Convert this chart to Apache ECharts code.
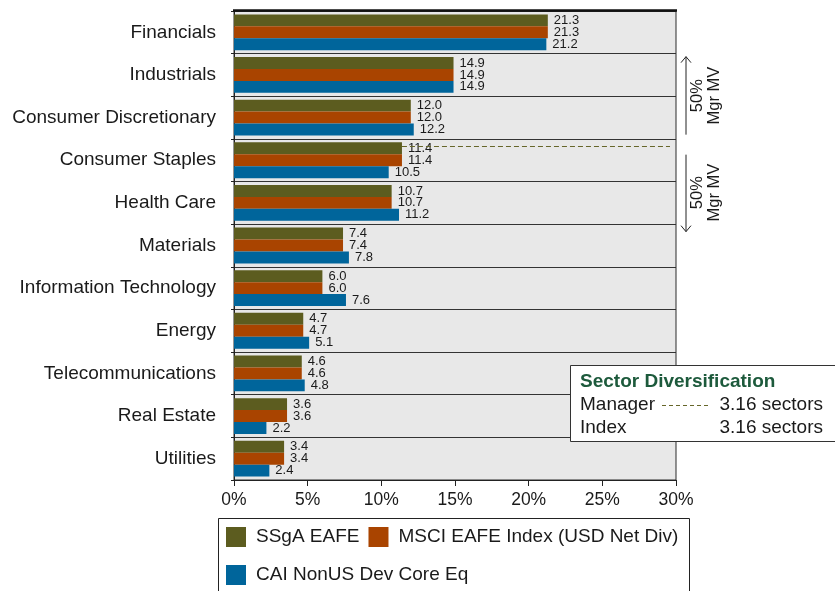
<!DOCTYPE html>
<html>
<head>
<meta charset="utf-8">
<script src="https://cdn.jsdelivr.net/npm/echarts@6/dist/echarts.min.js"></script>
<style>
  html, body { margin: 0; padding: 0; background: #fff; }
  #chart { width: 835px; height: 591px; }
</style>
</head>
<body>
<div id="chart"></div>
<script>
// Sector weights (%) by fund / index / peer group
const sectors = ['Financials', 'Industrials', 'Consumer Discretionary', 'Consumer Staples',
  'Health Care', 'Materials', 'Information Technology', 'Energy',
  'Telecommunications', 'Real Estate', 'Utilities'];
const managerWeights = [21.3, 14.9, 12.0, 11.4, 10.7, 7.4, 6.0, 4.7, 4.6, 3.6, 3.4];
const indexWeights   = [21.3, 14.9, 12.0, 11.4, 10.7, 7.4, 6.0, 4.7, 4.6, 3.6, 3.4];
const peerWeights    = [21.2, 14.9, 12.2, 10.5, 11.2, 7.8, 7.6, 5.1, 4.8, 2.2, 2.4];
const seriesNames = ['SSgA EAFE', 'MSCI EAFE Index (USD Net Div)', 'CAI NonUS Dev Core Eq'];
const seriesColors = ['#5c5c1f', '#a94400', '#00659b'];
const xTicks = [0, 5, 10, 15, 20, 25, 30];
const diversification = { manager: '3.16 sectors', index: '3.16 sectors' };

const FONT = '"Liberation Sans", Arial, sans-serif';
const TEXT = '#1a1a1a';

// Band index and fraction where the manager's cumulative weight crosses 50%
function midpointPosition(weights) {
  let cum = 0;
  for (let i = 0; i < weights.length; i++) {
    if (cum + weights[i] >= 50) return { idx: i, frac: (50 - cum) / weights[i] };
    cum += weights[i];
  }
  return { idx: weights.length - 1, frac: 1 };
}
const mid = midpointPosition(managerWeights);

const chart = echarts.init(document.getElementById('chart'), null, { renderer: 'canvas' });

const labelStyle = {
  show: true, position: 'right', distance: 6,
  color: TEXT, fontSize: 13, fontFamily: FONT,
  formatter: p => p.value.toFixed(1), lineHeight: 12
};

function barSeries(i, data) {
  return {
    name: seriesNames[i], type: 'bar', data: data,
    barGap: '0%', barCategoryGap: '16%',
    itemStyle: { color: seriesColors[i] },
    label: labelStyle, emphasis: { disabled: true }, z: 3
  };
}

const legendText = { fontSize: 19, color: TEXT, padding: [0, 0, 0, 5] };

chart.setOption({
  animation: false,
  textStyle: { fontFamily: FONT },
  grid: {
    left: 234, right: 159, top: 11, bottom: 111,
    show: true, backgroundColor: '#e8e8e8', borderColor: '#2b2b2b', borderWidth: 1
  },
  xAxis: {
    type: 'value', min: 0, max: 30, interval: 5,
    axisLine: { show: true, lineStyle: { color: '#222', width: 1 } },
    axisTick: { show: true, length: 6, lineStyle: { color: '#222' } },
    axisLabel: { formatter: v => xTicks.includes(v) ? v + '%' : '', fontSize: 17.5, color: TEXT, margin: 11 },
    splitLine: { show: false }
  },
  yAxis: {
    type: 'category', data: sectors, inverse: true,
    axisLine: { show: true, lineStyle: { color: '#222' } },
    axisTick: { show: true, length: 3, lineStyle: { color: '#222' } },
    axisLabel: { fontSize: 19, color: TEXT, margin: 18 },
    splitLine: { show: true, lineStyle: { color: '#333', width: 1 } }
  },
  legend: [{
    data: seriesNames.slice(0, 2), left: 218, top: 521, orient: 'horizontal',
    itemWidth: 20, itemHeight: 20, itemGap: 9, padding: [6, 8],
    textStyle: legendText, selectedMode: false, icon: 'rect'
  }, {
    data: seriesNames.slice(2), left: 218, top: 559, orient: 'horizontal',
    itemWidth: 20, itemHeight: 20, padding: [6, 8],
    textStyle: legendText, selectedMode: false, icon: 'rect'
  }],
  series: [
    barSeries(0, managerWeights),
    barSeries(1, indexWeights),
    barSeries(2, peerWeights)
  ]
});

// Pixel geometry derived from the axes
const c0 = chart.convertToPixel({ yAxisIndex: 0 }, sectors[0]);
const c1 = chart.convertToPixel({ yAxisIndex: 0 }, sectors[1]);
const band = c1 - c0;
const yTop = c0 - band / 2;
const yMid = chart.convertToPixel({ yAxisIndex: 0 }, sectors[mid.idx]) - band / 2 + mid.frac * band;
const xLeft = chart.convertToPixel({ xAxisIndex: 0 }, 0);
const xRight = chart.convertToPixel({ xAxisIndex: 0 }, 30);
const xSplitStart = chart.convertToPixel({ xAxisIndex: 0 }, managerWeights[mid.idx]);

const ax = 686;
function arrow(y1, y2) {
  const dir = y2 < y1 ? 1 : -1;
  return [
    { type: 'line', shape: { x1: ax, y1: y1, x2: ax, y2: y2 }, style: { stroke: '#222', lineWidth: 1 } },
    { type: 'polyline', shape: { points: [[ax - 5, y2 + dir * 6], [ax, y2], [ax + 5, y2 + dir * 6]] },
      style: { stroke: '#222', lineWidth: 1, fill: null } }
  ];
}
function rotatedLabel(cy) {
  return {
    type: 'text', x: 706, y: cy, rotation: Math.PI / 2,
    style: { text: '50%\nMgr MV', fontSize: 16.5, fontFamily: FONT, fill: TEXT,
      align: 'center', verticalAlign: 'middle', lineHeight: 17 }
  };
}
const boxText = (x, y, text, extra) => ({
  type: 'text', x: x, y: y, z: 12,
  style: Object.assign({ text: text, fontSize: 19, fontFamily: FONT, fill: TEXT, verticalAlign: 'middle' }, extra || {})
});

chart.setOption({
  graphic: [
    // heavy top rule of the plot frame
    { type: 'line', shape: { x1: xLeft - 1, y1: yTop - 0.5, x2: xRight + 1, y2: yTop - 0.5 },
      style: { stroke: '#111', lineWidth: 2.5 }, z: 5 },
    // manager 50% market value split
    { type: 'line', shape: { x1: xSplitStart, y1: Math.round(yMid) + 0.5, x2: xRight - 6, y2: Math.round(yMid) + 0.5 },
      style: { stroke: '#66662a', lineWidth: 1, lineDash: [5, 3] }, z: 5 },
    ...arrow(yMid - 11, yMid - 89),
    ...arrow(yMid + 9, yMid + 86),
    rotatedLabel(yMid - 50),
    rotatedLabel(yMid + 47),
    // legend frame
    { type: 'rect', shape: { x: 218.5, y: 518.5, width: 471, height: 80 },
      style: { fill: null, stroke: '#222', lineWidth: 1 }, z: -1 },
    // diversification box
    { type: 'rect', shape: { x: 570.5, y: 365.5, width: 270, height: 76 },
      style: { fill: '#fff', stroke: '#333', lineWidth: 1 }, z: 11 },
    boxText(580, 382, 'Sector Diversification', { fontWeight: 'bold', fill: '#1d5a3c' }),
    boxText(580, 405, 'Manager'),
    { type: 'line', z: 12, shape: { x1: 662, y1: 405.5, x2: 708, y2: 405.5 },
      style: { stroke: '#66662a', lineWidth: 1, lineDash: [4, 3] } },
    boxText(823, 405, diversification.manager, { align: 'right' }),
    boxText(580, 428, 'Index'),
    boxText(823, 428, diversification.index, { align: 'right' })
  ]
});
</script>
</body>
</html>
